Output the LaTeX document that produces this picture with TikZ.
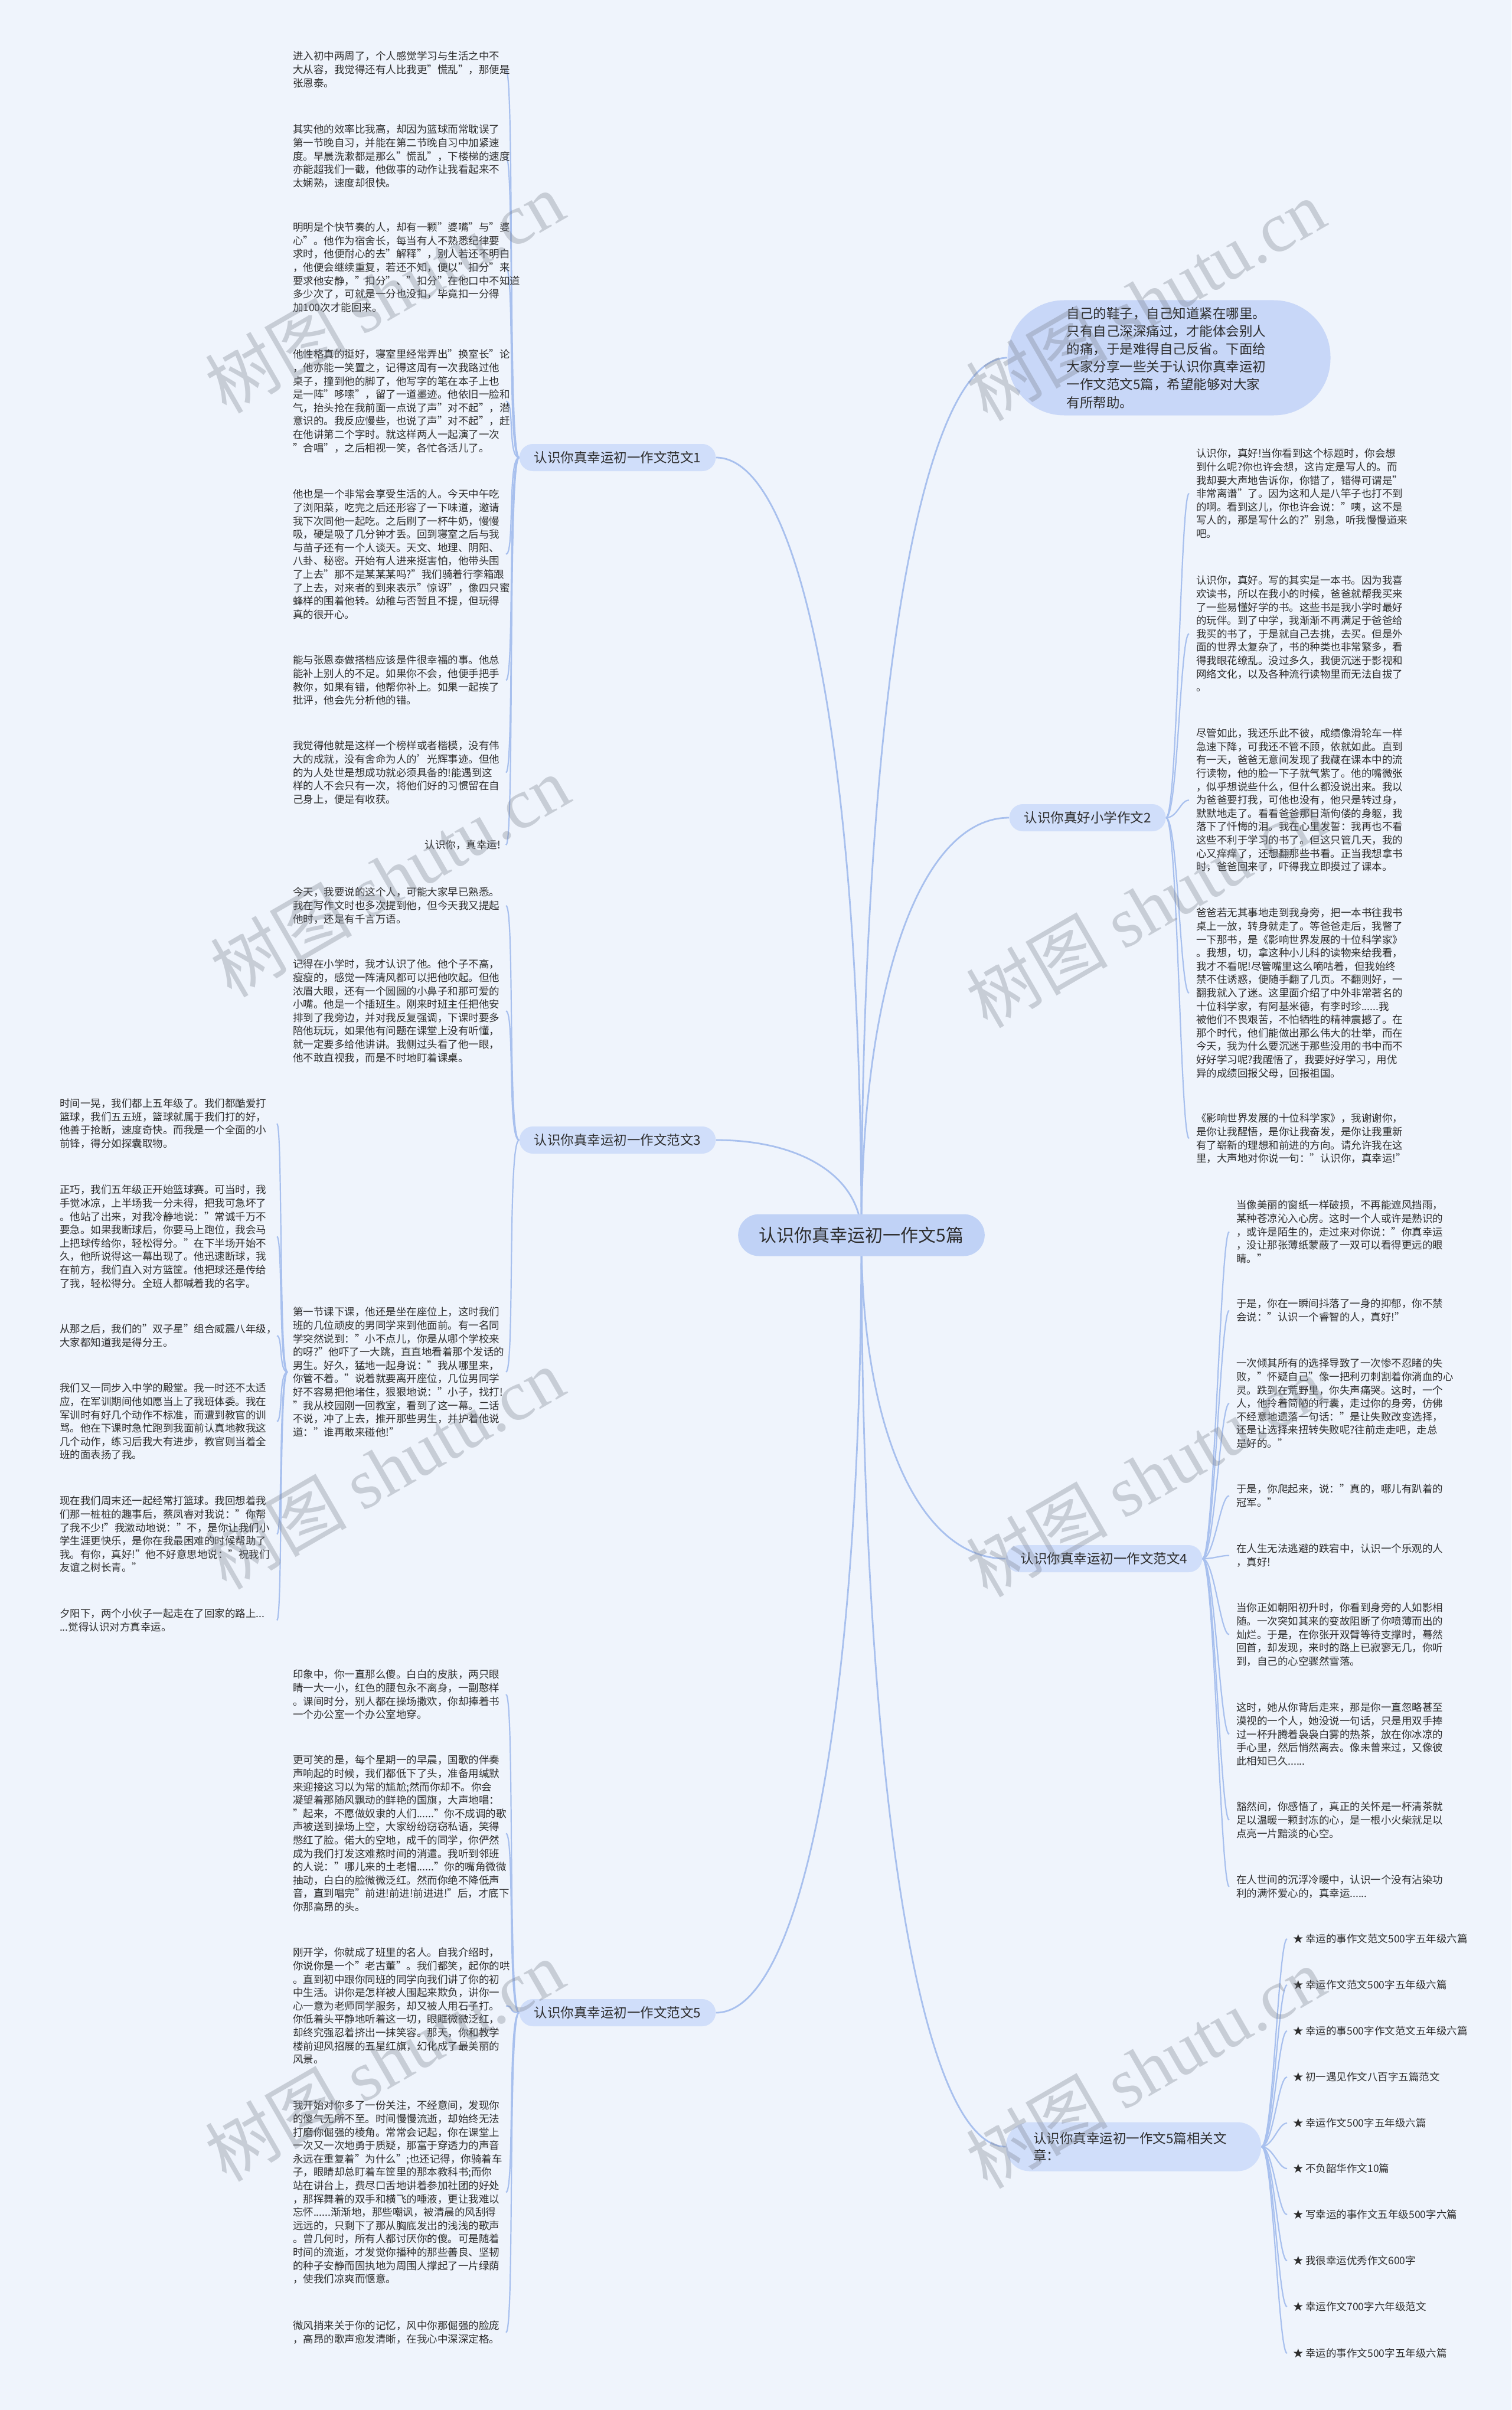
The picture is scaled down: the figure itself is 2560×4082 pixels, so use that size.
\documentclass[tikz,border=0pt]{standalone}
\usepackage{fontspec}
\setmainfont{Noto Sans CJK SC}
\newfontfamily\wmlatin{Liberation Serif}
\usetikzlibrary{calc,backgrounds}
\definecolor{bgc}{RGB}{239,244,252}
\definecolor{linec}{RGB}{168,192,238}
\definecolor{brc}{RGB}{208,222,250}
\definecolor{cenc}{RGB}{192,210,246}
\definecolor{introc}{RGB}{200,215,248}
\definecolor{txtc}{RGB}{45,45,45}
\definecolor{wmc}{RGB}{120,126,138}
\tikzset{
  mainline/.style={draw=linec, line width=1.4pt},
  brline/.style={draw=linec, line width=1.1pt},
  sub/.style={anchor=north west, inner sep=0pt, outer xsep=4.5pt, outer ysep=0pt,
    text width=176pt, align=left, text=txtc, font=\fontsize{8.75}{11.3}\selectfont},
  subR/.style={sub, outer xsep=6pt},
  subFL/.style={sub, outer xsep=8pt},
  relitem/.style={anchor=west, inner sep=0pt, outer xsep=5pt, text=txtc,
    font=\fontsize{8.75}{11}\selectfont},
  branch/.style={fill=brc, rounded corners=11.5pt, minimum height=23pt,
    inner xsep=12.5pt, inner ysep=0pt, text=txtc, font=\fontsize{11.25}{13}\selectfont},
  centre/.style={fill=cenc, rounded corners=17.75pt, minimum height=35.5pt,
    inner xsep=17.75pt, inner ysep=0pt, text=txtc, font=\fontsize{15}{17}\selectfont},
  introbox/.style={fill=introc, rounded corners=48pt, minimum height=97.5pt,
    text width=173.5pt, align=left, inner xsep=50pt, inner ysep=0pt, text=txtc,
    font=\fontsize{11.25}{15.1}\selectfont},
  relbox/.style={fill=brc, rounded corners=20pt, minimum height=41.5pt,
    text width=170pt, align=left, inner xsep=23pt, inner ysep=0pt, text=txtc,
    font=\fontsize{11.25}{14.5}\selectfont},
  wm/.style={rotate=30, text=wmc, opacity=0.33, font=\fontsize{60}{60}\selectfont}
}
\begin{document}
\begin{tikzpicture}[x=0.5pt,y=-0.5pt]
\useasboundingbox (0,0) rectangle (2560,4082);

% centre and branches
\node[centre] (c) at (1459,2092) {认识你真幸运初一作文5篇};
\node[branch] (b1) at (1046,775) {认识你真幸运初一作文范文1};
\node[branch] (b3) at (1046,1931) {认识你真幸运初一作文范文3};
\node[branch] (b5) at (1046,3409) {认识你真幸运初一作文范文5};
\node[introbox] (intro) at (1980,606) {自己的鞋子，自己知道紧在哪里。\\只有自己深深痛过，才能体会别人\\的痛，于是难得自己反省。下面给\\大家分享一些关于认识你真幸运初\\一作文范文5篇，希望能够对大家\\有所帮助。};
\node[branch] (b2) at (1842,1385) {认识你真好小学作文2};
\node[branch] (b4) at (1870,2640) {认识你真幸运初一作文范文4};
\node[relbox] (rel) at (1920,3636) {认识你真幸运初一作文5篇相关文\\章：};

% branch 1
\node[sub] (b11) at (487,87) {进入初中两周了，个人感觉学习与生活之中不\\大从容，我觉得还有人比我更"慌乱"，那便是\\张恩泰。};
\node[sub] (b12) at (487,211) {其实他的效率比我高，却因为篮球而常耽误了\\第一节晚自习，并能在第二节晚自习中加紧速\\度。早晨洗漱都是那么"慌乱"，下楼梯的速度\\亦能超我们一截，他做事的动作让我看起来不\\太娴熟，速度却很快。};
\node[sub] (b13) at (487,377) {明明是个快节奏的人，却有一颗"婆嘴"与"婆\\心"。他作为宿舍长，每当有人不熟悉纪律要\\求时，他便耐心的去"解释"，别人若还不明白\\，他便会继续重复，若还不知，便以"扣分"来\\要求他安静，"扣分"、"扣分"在他口中不知道\\多少次了，可就是一分也没扣，毕竟扣一分得\\加100次才能回来。};
\node[sub] (b14) at (487,592) {他性格真的挺好，寝室里经常弄出"换室长"论\\，他亦能一笑置之，记得这周有一次我路过他\\桌子，撞到他的脚了，他写字的笔在本子上也\\是一阵"哆嗦"，留了一道墨迹。他依旧一脸和\\气，抬头抢在我前面一点说了声"对不起"，潜\\意识的。我反应慢些，也说了声"对不起"，赶\\在他讲第二个字时。就这样两人一起演了一次\\"合唱"，之后相视一笑，各忙各活儿了。};
\node[sub] (b15) at (487,829) {他也是一个非常会享受生活的人。今天中午吃\\了浏阳菜，吃完之后还形容了一下味道，邀请\\我下次同他一起吃。之后刷了一杯牛奶，慢慢\\吸，硬是吸了几分钟才丢。回到寝室之后与我\\与苗子还有一个人谈天。天文、地理、阴阳、\\八卦、秘密。开始有人进来挺害怕，他带头围\\了上去"那不是某某某吗?"我们骑着行李箱跟\\了上去，对来者的到来表示"惊讶"，像四只蜜\\蜂样的围着他转。幼稚与否暂且不提，但玩得\\真的很开心。};
\node[sub] (b16) at (487,1110) {能与张恩泰做搭档应该是件很幸福的事。他总\\能补上别人的不足。如果你不会，他便手把手\\教你，如果有错，他帮你补上。如果一起挨了\\批评，他会先分析他的错。};
\node[sub] (b17) at (487,1255) {我觉得他就是这样一个榜样或者楷模，没有伟\\大的成就，没有舍命为人的'光辉事迹。但他\\的为人处世是想成功就必须具备的!能遇到这\\样的人不会只有一次，将他们好的习惯留在自\\己身上，便是有收获。};
\node[sub, align=right] (b18) at (487,1423) {认识你，真幸运!};

% branch 3
\node[sub] (b31) at (487,1503) {今天，我要说的这个人，可能大家早已熟悉。\\我在写作文时也多次提到他，但今天我又提起\\他时，还是有千言万语。};
\node[sub] (b32) at (487,1625) {记得在小学时，我才认识了他。他个子不高，\\瘦瘦的，感觉一阵清风都可以把他吹起。但他\\浓眉大眼，还有一个圆圆的小鼻子和那可爱的\\小嘴。他是一个插班生。刚来时班主任把他安\\排到了我旁边，并对我反复强调，下课时要多\\陪他玩玩，如果他有问题在课堂上没有听懂，\\就一定要多给他讲讲。我侧过头看了他一眼，\\他不敢直视我，而是不时地盯着课桌。};
\node[sub] (b34) at (487,2214) {第一节课下课，他还是坐在座位上，这时我们\\班的几位顽皮的男同学来到他面前。有一名同\\学突然说到："小不点儿，你是从哪个学校来\\的呀?"他吓了一大跳，直直地看着那个发话的\\男生。好久，猛地一起身说："我从哪里来，\\你管不着。"说着就要离开座位，几位男同学\\好不容易把他堵住，狠狠地说："小子，找打!\\"我从校园刚一回教室，看到了这一幕。二话\\不说，冲了上去，推开那些男生，并护着他说\\道："谁再敢来碰他!"};

% far left
\node[subFL] (l1) at (85,1861) {时间一晃，我们都上五年级了。我们都酷爱打\\篮球，我们五五班，篮球就属于我们打的好，\\他善于抢断，速度奇快。而我是一个全面的小\\前锋，得分如探囊取物。};
\node[subFL] (l2) at (85,2007) {正巧，我们五年级正开始篮球赛。可当时，我\\手觉冰凉，上半场我一分未得，把我可急坏了\\。他站了出来，对我冷静地说："常诚千万不\\要急。如果我断球后，你要马上跑位，我会马\\上把球传给你，轻松得分。"在下半场开始不\\久，他所说得这一幕出现了。他迅速断球，我\\在前方，我们直入对方篮筐。他把球还是传给\\了我，轻松得分。全班人都喊着我的名字。};
\node[subFL] (l3) at (85,2243) {从那之后，我们的"双子星"组合威震八年级，\\大家都知道我是得分王。};
\node[subFL] (l4) at (85,2343) {我们又一同步入中学的殿堂。我一时还不太适\\应，在军训期间他如愿当上了我班体委。我在\\军训时有好几个动作不标准，而遭到教官的训\\骂。他在下课时急忙跑到我面前认真地教我这\\几个动作，练习后我大有进步，教官则当着全\\班的面表扬了我。};
\node[subFL] (l5) at (85,2534) {现在我们周末还一起经常打篮球。我回想着我\\们那一桩桩的趣事后，蔡凤睿对我说："你帮\\了我不少!"我激动地说："不，是你让我们小\\学生涯更快乐，是你在我最困难的时候帮助了\\我。有你，真好!"他不好意思地说："祝我们\\友谊之树长青。"};
\node[subFL] (l6) at (85,2725) {夕阳下，两个小伙子一起走在了回家的路上...\\...觉得认识对方真幸运。};

% branch 5
\node[sub] (b51) at (487,2828) {印象中，你一直那么傻。白白的皮肤，两只眼\\睛一大一小，红色的腰包永不离身，一副憨样\\。课间时分，别人都在操场撒欢，你却捧着书\\一个办公室一个办公室地穿。};
\node[sub] (b52) at (487,2973) {更可笑的是，每个星期一的早晨，国歌的伴奏\\声响起的时候，我们都低下了头，准备用缄默\\来迎接这习以为常的尴尬;然而你却不。你会\\凝望着那随风飘动的鲜艳的国旗，大声地唱：\\"起来，不愿做奴隶的人们......"你不成调的歌\\声被送到操场上空，大家纷纷窃窃私语，笑得\\憋红了脸。偌大的空地，成千的同学，你俨然\\成为我们打发这难熬时间的消遣。我听到邻班\\的人说："哪儿来的土老帽......"你的嘴角微微\\抽动，白白的脸微微泛红。然而你绝不降低声\\音，直到唱完"前进!前进!前进进!"后，才底下\\你那高昂的头。};
\node[sub] (b53) at (487,3299) {刚开学，你就成了班里的名人。自我介绍时，\\你说你是一个"老古董"。我们都笑，起你的哄\\。直到初中跟你同班的同学向我们讲了你的初\\中生活。讲你是怎样被人围起来欺负，讲你一\\心一意为老师同学服务，却又被人用石子打。\\你低着头平静地听着这一切，眼眶微微泛红，\\却终究强忍着挤出一抹笑容。那天，你和教学\\楼前迎风招展的五星红旗，幻化成了最美丽的\\风景。};
\node[sub] (b54) at (487,3558) {我开始对你多了一份关注，不经意间，发现你\\的傻气无所不至。时间慢慢流逝，却始终无法\\打磨你倔强的棱角。常常会记起，你在课堂上\\一次又一次地勇于质疑，那富于穿透力的声音\\永远在重复着"为什么";也还记得，你骑着车\\子，眼睛却总盯着车筐里的那本教科书;而你\\站在讲台上，费尽口舌地讲着参加社团的好处\\，那挥舞着的双手和横飞的唾液，更让我难以\\忘怀......渐渐地，那些嘲讽，被清晨的风刮得\\远远的，只剩下了那从胸底发出的浅浅的歌声\\。曾几何时，所有人都讨厌你的傻。可是随着\\时间的流逝，才发觉你播种的那些善良、坚韧\\的种子安静而固执地为周围人撑起了一片绿荫\\，使我们凉爽而惬意。};
\node[sub] (b55) at (487,3931) {微风捎来关于你的记忆，风中你那倔强的脸庞\\，高昂的歌声愈发清晰，在我心中深深定格。};

% branch 2
\node[subR] (b21) at (2014,760) {认识你，真好!当你看到这个标题时，你会想\\到什么呢?你也许会想，这肯定是写人的。而\\我却要大声地告诉你，你错了，错得可谓是"\\非常离谱"了。因为这和人是八竿子也打不到\\的啊。看到这儿，你也许会说："咦，这不是\\写人的，那是写什么的?"别急，听我慢慢道来\\吧。};
\node[subR] (b22) at (2014,975) {认识你，真好。写的其实是一本书。因为我喜\\欢读书，所以在我小的时候，爸爸就帮我买来\\了一些易懂好学的书。这些书是我小学时最好\\的玩伴。到了中学，我渐渐不再满足于爸爸给\\我买的书了，于是就自己去挑，去买。但是外\\面的世界太复杂了，书的种类也非常繁多，看\\得我眼花缭乱。没过多久，我便沉迷于影视和\\网络文化，以及各种流行读物里而无法自拔了\\。};
\node[subR] (b23) at (2014,1234) {尽管如此，我还乐此不彼，成绩像滑轮车一样\\急速下降，可我还不管不顾，依就如此。直到\\有一天，爸爸无意间发现了我藏在课本中的流\\行读物，他的脸一下子就气紫了。他的嘴微张\\，似乎想说些什么，但什么都没说出来。我以\\为爸爸要打我，可他也没有，他只是转过身，\\默默地走了。看看爸爸那日渐佝偻的身躯，我\\落下了忏悔的泪。我在心里发誓：我再也不看\\这些不利于学习的书了。但这只管几天，我的\\心又痒痒了，还想翻那些书看。正当我想拿书\\时，爸爸回来了，吓得我立即摸过了课本。};
\node[subR] (b24) at (2014,1538) {爸爸若无其事地走到我身旁，把一本书往我书\\桌上一放，转身就走了。等爸爸走后，我瞥了\\一下那书，是《影响世界发展的十位科学家》\\。我想，切，拿这种小儿科的读物来给我看，\\我才不看呢!尽管嘴里这么嘀咕着，但我始终\\禁不住诱惑，便随手翻了几页。不翻则好，一\\翻我就入了迷。这里面介绍了中外非常著名的\\十位科学家，有阿基米德，有李时珍......我\\被他们不畏艰苦，不怕牺牲的精神震撼了。在\\那个时代，他们能做出那么伟大的壮举，而在\\今天，我为什么要沉迷于那些没用的书中而不\\好好学习呢?我醒悟了，我要好好学习，用优\\异的成绩回报父母，回报祖国。};
\node[subR] (b25) at (2014,1886) {《影响世界发展的十位科学家》，我谢谢你，\\是你让我醒悟，是你让我奋发，是你让我重新\\有了崭新的理想和前进的方向。请允许我在这\\里，大声地对你说一句："认识你，真幸运!"};

% branch 4
\node[subR] (b41) at (2082,2033) {当像美丽的窗纸一样破损，不再能遮风挡雨，\\某种苍凉沁入心房。这时一个人或许是熟识的\\，或许是陌生的，走过来对你说："你真幸运\\，没让那张薄纸蒙蔽了一双可以看得更远的眼\\睛。"};
\node[subR] (b42) at (2082,2200) {于是，你在一瞬间抖落了一身的抑郁，你不禁\\会说："认识一个睿智的人，真好!"};
\node[subR] (b43) at (2082,2301) {一次倾其所有的选择导致了一次惨不忍睹的失\\败，"怀疑自己"像一把利刃刺割着你淌血的心\\灵。跌到在荒野里，你失声痛哭。这时，一个\\人，他拎着简陋的行囊，走过你的身旁，仿佛\\不经意地遗落一句话："是让失败改变选择，\\还是让选择来扭转失败呢?往前走走吧，走总\\是好的。"};
\node[subR] (b44) at (2082,2514) {于是，你爬起来，说："真的，哪儿有趴着的\\冠军。"};
\node[subR] (b45) at (2082,2615) {在人生无法逃避的跌宕中，认识一个乐观的人\\，真好!};
\node[subR] (b46) at (2082,2715) {当你正如朝阳初升时，你看到身旁的人如影相\\随。一次突如其来的变故阻断了你喷薄而出的\\灿烂。于是，在你张开双臂等待支撑时，蓦然\\回首，却发现，来时的路上已寂寥无几，你听\\到，自己的心空骤然雪落。};
\node[subR] (b47) at (2082,2884) {这时，她从你背后走来，那是你一直忽略甚至\\漠视的一个人，她没说一句话，只是用双手捧\\过一杯升腾着袅袅白雾的热茶，放在你冰凉的\\手心里，然后悄然离去。像未曾来过，又像彼\\此相知已久......};
\node[subR] (b48) at (2082,3052) {豁然间，你感悟了，真正的关怀是一杯清茶就\\足以温暖一颗封冻的心，是一根小火柴就足以\\点亮一片黯淡的心空。};
\node[subR] (b49) at (2082,3176) {在人世间的沉浮冷暖中，认识一个没有沾染功\\利的满怀爱心的，真幸运......};

% related list
\node[relitem] (r1) at (2180,3284) {★ 幸运的事作文范文500字五年级六篇};
\node[relitem] (r2) at (2180,3362) {★ 幸运作文范文500字五年级六篇};
\node[relitem] (r3) at (2180,3440) {★ 幸运的事500字作文范文五年级六篇};
\node[relitem] (r4) at (2180,3518) {★ 初一遇见作文八百字五篇范文};
\node[relitem] (r5) at (2180,3596) {★ 幸运作文500字五年级六篇};
\node[relitem] (r6) at (2180,3673) {★ 不负韶华作文10篇};
\node[relitem] (r7) at (2180,3751) {★ 写幸运的事作文五年级500字六篇};
\node[relitem] (r8) at (2180,3829) {★ 我很幸运优秀作文600字};
\node[relitem] (r9) at (2180,3907) {★ 幸运作文700字六年级范文};
\node[relitem] (r10) at (2180,3986) {★ 幸运的事作文500字五年级六篇};

\begin{scope}[on background layer]
\fill[bgc] (0,0) rectangle (2560,4082);
% main connectors
\foreach \t in {b1.east,b3.east,b5.east,intro.west,b2.west,b4.west,rel.west}{
  \draw[mainline] (c.center) .. controls ($(c.center)!0.6!(c.center|-\t)$) and ($(c.center|-\t)!0.4!(\t)$) .. (\t);
}
% bracket connectors
\foreach \n in {b11,b12,b13,b14,b15,b16,b17,b18}
  \draw[brline] (b1.west) .. controls +(-20,0) and +(15,0) .. (\n.east);
\foreach \n in {b31,b32,b34}
  \draw[brline] (b3.west) .. controls +(-20,0) and +(15,0) .. (\n.east);
\foreach \n in {l1,l2,l3,l4,l5,l6}
  \draw[brline] (b34.west) .. controls +(-15,0) and +(10,0) .. (\n.east);
\foreach \n in {b51,b52,b53,b54,b55}
  \draw[brline] (b5.west) .. controls +(-20,0) and +(15,0) .. (\n.east);
\foreach \n in {b21,b22,b23,b24,b25}
  \draw[brline] (b2.east) .. controls +(20,0) and +(-15,0) .. (\n.west);
\foreach \n in {b41,b42,b43,b44,b45,b46,b47,b48,b49}
  \draw[brline] (b4.east) .. controls +(20,0) and +(-15,0) .. (\n.west);
\foreach \n in {r1,r2,r3,r4,r5,r6,r7,r8,r9,r10}
  \draw[brline] (rel.east) .. controls +(20,0) and +(-15,0) .. (\n.west);
\end{scope}

% watermarks
\node[wm] (w1) at (651,495) {树图 {\wmlatin shutu.cn}};
\node[wm] (w2) at (1940,508) {树图 {\wmlatin shutu.cn}};
\node[wm] (w3) at (660,1484) {树图 {\wmlatin shutu.cn}};
\node[wm] (w4) at (1940,1536) {树图 {\wmlatin shutu.cn}};
\node[wm] (w5) at (651,2487) {树图 {\wmlatin shutu.cn}};
\node[wm] (w6) at (1940,2500) {树图 {\wmlatin shutu.cn}};
\node[wm] (w7) at (651,3490) {树图 {\wmlatin shutu.cn}};
\node[wm] (w8) at (1940,3502) {树图 {\wmlatin shutu.cn}};
\end{tikzpicture}
\end{document}
